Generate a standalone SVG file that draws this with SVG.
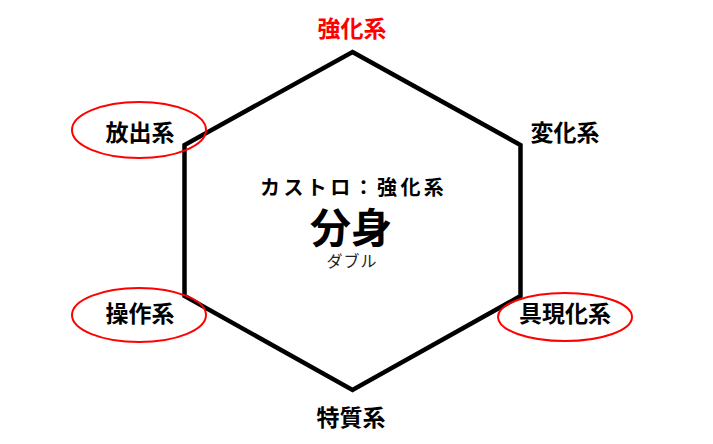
<svg xmlns="http://www.w3.org/2000/svg" width="713" height="444" viewBox="0 0 713 444">
<style>
.lbl{font-family:"Noto Sans CJK JP","Noto Sans",sans-serif;font-weight:bold;font-size:23px;fill:#000;text-anchor:middle}
.red{fill:#ff0000}
.ring{fill:none;stroke:#ff0000;stroke-width:2}
.hex{fill:none;stroke:#000;stroke-width:4.5;stroke-linejoin:miter}
</style>
<rect width="713" height="444" fill="#fff"/>
<g id="connectors">
<polygon class="hex" points="352.5,52 520.5,145 520.5,296 352.5,390 184.5,296 184.5,145"/>
</g>
<g id="center">
<text x="260" y="195" style="font-family:'Noto Sans CJK JP',sans-serif;font-weight:bold;font-size:20px;letter-spacing:3.4px">カストロ：強化系</text>
<text x="351" y="243" class="lbl" style="font-size:41px">分身</text>
<text x="352" y="267" style="font-family:'Noto Sans CJK JP',sans-serif;font-size:16px;letter-spacing:1px;text-anchor:middle;fill:#222">ダブル</text>
</g>
<g id="enhancer"><text x="352" y="37" class="lbl red">強化系</text></g>
<g id="transmuter"><text x="565" y="141" class="lbl">変化系</text></g>
<g id="conjurer"><text x="565" y="322" class="lbl">具現化系</text><ellipse class="ring" cx="565" cy="317" rx="67" ry="24"/></g>
<g id="specialist"><text x="351" y="426" class="lbl">特質系</text></g>
<g id="manipulator"><text x="140" y="322" class="lbl">操作系</text><ellipse class="ring" cx="139" cy="315" rx="67" ry="27"/></g>
<g id="emitter"><text x="140" y="141" class="lbl">放出系</text><ellipse class="ring" cx="139" cy="130" rx="67" ry="28"/></g>
</svg>
